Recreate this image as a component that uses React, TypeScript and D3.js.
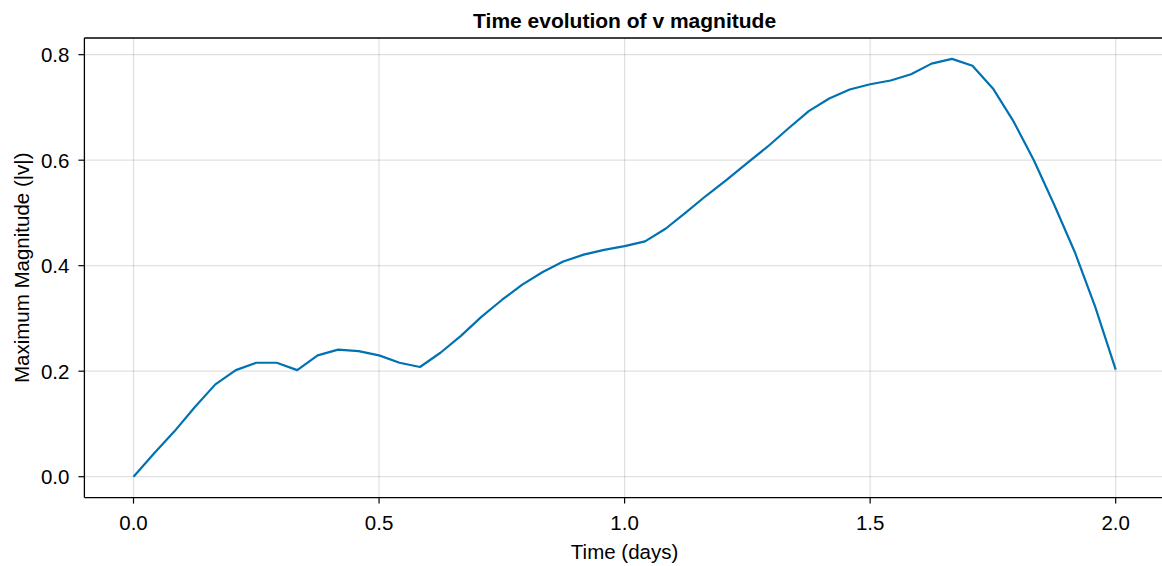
import * as d3 from "d3";

// hours since start, converted to days below
const hours = [
  0, 1, 2, 3, 4, 5, 6, 7, 8, 9, 10, 11, 12, 13, 14, 15, 16, 17, 18, 19, 20, 21, 22, 23, 24,
  25, 26, 27, 28, 29, 30, 31, 32, 33, 34, 35, 36, 37, 38, 39, 40, 41, 42, 43, 44, 45, 46, 47, 48,
];

const maxMagnitude = [
  0, 0.044, 0.086, 0.132, 0.175, 0.202, 0.216, 0.216, 0.202, 0.23, 0.241, 0.238, 0.23, 0.216,
  0.208, 0.235, 0.267, 0.303, 0.335, 0.364, 0.388, 0.408, 0.421, 0.43, 0.437, 0.446, 0.47,
  0.501, 0.533, 0.563, 0.595, 0.626, 0.66, 0.693, 0.717, 0.734, 0.744, 0.751, 0.763, 0.783,
  0.792, 0.779, 0.736, 0.674, 0.6, 0.515, 0.426, 0.322, 0.203,
];

const xTicks = [0, 0.5, 1.0, 1.5, 2.0];
const yTicks = [0, 0.2, 0.4, 0.6, 0.8];

const W = 1162;
const H = 566;
const FONT = "'Liberation Sans', Arial, sans-serif";
const LINE = "#0072b2";
const GRID = "rgba(0,0,0,0.12)";
const FS = 20.5;

export default function App() {
  const days = hours.map((h) => h / 24);
  const pts = days.map((d, i) => [d, maxMagnitude[i]] as [number, number]);

  // Makie-style autolimits: 5% margin each side
  const xExt = d3.extent(days) as [number, number];
  const yExt = d3.extent(maxMagnitude) as [number, number];
  const xPad = (xExt[1] - xExt[0]) * 0.05;
  const yPad = (yExt[1] - yExt[0]) * 0.05;

  const left = 84.4, right = 1164.8, top = 38, bottom = 497.6;
  const x = d3.scaleLinear().domain([xExt[0] - xPad, xExt[1] + xPad]).range([left, right]);
  const y = d3.scaleLinear().domain([yExt[0] - yPad, yExt[1] + yPad]).range([bottom, top]);

  const line = d3.line<[number, number]>().x((d) => x(d[0])).y((d) => y(d[1]));

  return (
    <svg width={W} height={H} style={{ position: "absolute", left: 0, top: 0, background: "#fff" }} fontFamily={FONT}>
      {/* grid */}
      {xTicks.map((t) => (
        <line key={"gx" + t} x1={x(t)} x2={x(t)} y1={top} y2={bottom} stroke={GRID} strokeWidth={1.2} />
      ))}
      {yTicks.map((t) => (
        <line key={"gy" + t} x1={left} x2={right} y1={y(t)} y2={y(t)} stroke={GRID} strokeWidth={1.2} />
      ))}

      <path d={line(pts) ?? ""} fill="none" stroke={LINE} strokeWidth={2.2} strokeLinejoin="round" />

      {/* spines */}
      <line x1={left} x2={right} y1={top} y2={top} stroke="#000" strokeWidth={1.3} />
      <line x1={left} x2={right} y1={bottom} y2={bottom} stroke="#000" strokeWidth={1.3} />
      <line x1={left} x2={left} y1={top} y2={bottom} stroke="#000" strokeWidth={1.3} />

      {/* x ticks */}
      {xTicks.map((t) => (
        <g key={"tx" + t}>
          <line x1={x(t)} x2={x(t)} y1={bottom} y2={bottom + 6} stroke="#000" strokeWidth={1.2} />
          <text x={x(t)} y={bottom + 32} textAnchor="middle" fontSize={FS} fill="#000">
            {d3.format(".1f")(t)}
          </text>
        </g>
      ))}
      {/* y ticks */}
      {yTicks.map((t) => (
        <g key={"ty" + t}>
          <line x1={left - 6} x2={left} y1={y(t)} y2={y(t)} stroke="#000" strokeWidth={1.2} />
          <text x={left - 15} y={y(t) + 7.5} textAnchor="end" fontSize={FS} fill="#000">
            {d3.format(".1f")(t)}
          </text>
        </g>
      ))}

      <text x={(left + right) / 2} y={28} textAnchor="middle" fontSize={21} fontWeight="bold" fill="#000">
        Time evolution of v magnitude
      </text>
      <text x={(left + right) / 2} y={559} textAnchor="middle" fontSize={FS} fill="#000">
        Time (days)
      </text>
      <text
        transform={`translate(29,${(top + bottom) / 2}) rotate(-90)`}
        textAnchor="middle"
        fontSize={FS}
        fill="#000"
      >
        Maximum Magnitude (|v|)
      </text>
    </svg>
  );
}
